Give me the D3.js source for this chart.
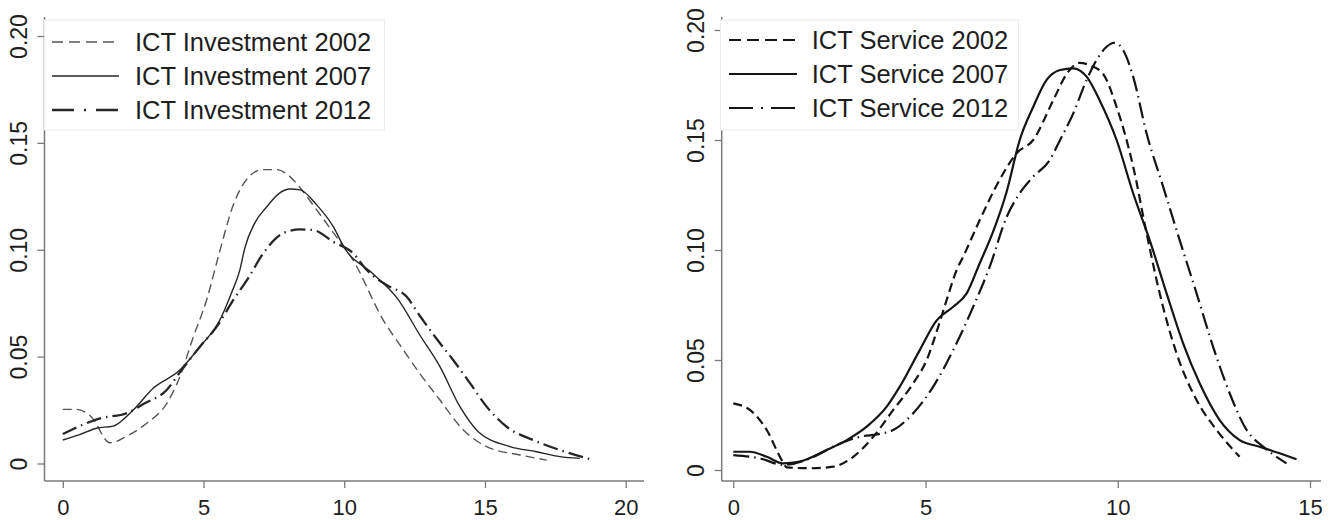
<!DOCTYPE html>
<html>
<head>
<meta charset="utf-8">
<script src="https://cdn.jsdelivr.net/npm/d3@7"></script>
<style>
  html, body { margin: 0; padding: 0; background: #ffffff; }
  svg { display: block; font-family: "Liberation Sans", Arial, sans-serif; }
</style>
</head>
<body>
<svg id="chart" width="1336" height="520"></svg>
<script>
// ---------- Data ----------
const yTicks = [0, 0.05, 0.10, 0.15, 0.20];
const xTicksInv = [0, 5, 10, 15, 20];
const xTicksSrv = [0, 5, 10, 15];

const invLabels = ["ICT Investment 2002", "ICT Investment 2007", "ICT Investment 2012"];
const srvLabels = ["ICT Service 2002", "ICT Service 2007", "ICT Service 2012"];

// ICT Investment density curves
const inv2002X = [0, 0.5, 1.0, 1.68, 2.3, 2.98, 3.69, 4.16, 4.64, 5.11, 5.55, 6.06, 6.6, 7.1, 7.6, 8.0, 8.43, 9.0, 9.61, 10.32, 11.39, 12.0, 12.69, 13.4, 14.23, 15.06, 16.24, 17.19];
const inv2002Y = [0.0253, 0.0253, 0.022, 0.0097, 0.013, 0.0188, 0.028, 0.0406, 0.0593, 0.0765, 0.098, 0.121, 0.134, 0.1375, 0.1375, 0.135, 0.129, 0.119, 0.108, 0.095, 0.067, 0.055, 0.042, 0.0297, 0.0157, 0.0079, 0.004, 0.0016];

const inv2007X = [0, 0.6, 1.2, 1.79, 2.5, 3.21, 4.16, 4.87, 5.58, 6.0, 6.29, 6.47, 6.8, 7.24, 7.7, 8.07, 8.43, 9.02, 9.61, 10.0, 11.0, 11.9, 12.69, 13.4, 14.11, 14.76, 15.89, 16.83, 17.66, 18.37];
const inv2007Y = [0.011, 0.0135, 0.0165, 0.0175, 0.025, 0.0352, 0.0437, 0.0546, 0.0671, 0.08, 0.0905, 0.101, 0.112, 0.120, 0.1265, 0.1284, 0.128, 0.121, 0.1108, 0.101, 0.089, 0.077, 0.060, 0.0453, 0.0266, 0.0149, 0.0079, 0.0055, 0.0032, 0.0024];

const inv2012X = [0, 0.6, 1.32, 2.27, 2.86, 3.69, 4.22, 4.87, 5.47, 6.06, 6.6, 7.12, 7.83, 8.43, 8.9, 9.61, 10.32, 10.8, 11.5, 12.22, 12.69, 13.3, 13.87, 14.5, 15.06, 15.77, 16.71, 17.66, 18.73];
const inv2012Y = [0.0138, 0.0175, 0.0211, 0.0235, 0.0278, 0.0344, 0.0437, 0.0546, 0.064, 0.0765, 0.087, 0.0983, 0.1077, 0.1095, 0.1092, 0.1037, 0.0983, 0.0905, 0.0835, 0.078, 0.069, 0.058, 0.0484, 0.037, 0.0266, 0.0172, 0.011, 0.0063, 0.002];

// ICT Service density curves
const srv2002X = [0, 0.43, 0.87, 1.26, 1.39, 2.0, 2.6, 3.12, 3.64, 4.16, 4.68, 5.03, 5.33, 5.55, 5.81, 5.98, 6.41, 6.93, 7.37, 7.8, 8.32, 8.67, 9.01, 9.27, 9.62, 9.97, 10.4, 10.75, 11.09, 11.53, 12.05, 12.57, 13.17];
const srv2002Y = [0.0303, 0.0273, 0.0182, 0.0045, 0.0012, 0.0008, 0.0015, 0.006, 0.0151, 0.0273, 0.0394, 0.05, 0.0651, 0.0773, 0.0909, 0.097, 0.1136, 0.132, 0.144, 0.150, 0.168, 0.180, 0.1851, 0.184, 0.180, 0.165, 0.138, 0.1076, 0.0803, 0.053, 0.0318, 0.0182, 0.006];

const srv2007X = [0, 0.43, 0.87, 1.3, 1.73, 2.43, 2.95, 3.47, 3.99, 4.33, 4.85, 5.29, 5.72, 6.07, 6.41, 6.75, 7.11, 7.45, 7.8, 8.15, 8.5, 8.84, 9.19, 9.53, 9.97, 10.4, 10.83, 11.27, 11.7, 12.13, 12.65, 13.17, 13.69, 14.21, 14.65];
const srv2007Y = [0.0083, 0.0083, 0.006, 0.003, 0.0038, 0.0091, 0.0136, 0.0197, 0.0288, 0.0379, 0.0545, 0.068, 0.0742, 0.0803, 0.094, 0.108, 0.1265, 0.150, 0.165, 0.1773, 0.1818, 0.1826, 0.1788, 0.168, 0.150, 0.1258, 0.1045, 0.0803, 0.0576, 0.0394, 0.0227, 0.0136, 0.0106, 0.0076, 0.0049];

const srv2012X = [0, 0.69, 1.3, 2.0, 2.69, 3.29, 3.81, 4.16, 4.68, 5.2, 5.72, 6.24, 6.67, 7.11, 7.45, 7.8, 8.23, 8.5, 8.84, 9.19, 9.45, 9.71, 9.92, 10.14, 10.4, 10.75, 11.18, 11.61, 12.05, 12.48, 12.91, 13.35, 13.78, 14.13, 14.39];
const srv2012Y = [0.0068, 0.0053, 0.0023, 0.0053, 0.0114, 0.0151, 0.0164, 0.0182, 0.0258, 0.0379, 0.0545, 0.0742, 0.0924, 0.115, 0.1258, 0.1333, 0.1409, 0.150, 0.162, 0.1773, 0.1864, 0.1924, 0.1942, 0.1909, 0.1788, 0.153, 0.1288, 0.1045, 0.0803, 0.056, 0.0349, 0.0182, 0.0106, 0.006, 0.003];

// ---------- Drawing ----------
const svg = d3.select("#chart");
const zip = (xs, ys) => xs.map((x, i) => [x, ys[i]]);
const fmtY = v => v === 0 ? "0" : d3.format(".2f")(v);

const AXIS_COLOR = "#7a7a7a";
const TEXT_COLOR = "#1e1e1e";

function panel(cfg) {
  const g = svg.append("g");
  const x = d3.scaleLinear().domain(cfg.xDomain).range(cfg.xRange);
  const y = d3.scaleLinear().domain([0, 0.2]).range(cfg.yRange);

  // axis lines
  g.append("line").attr("x1", cfg.axisX).attr("x2", cfg.axisX)
    .attr("y1", cfg.axisTop).attr("y2", cfg.axisY)
    .attr("stroke", AXIS_COLOR).attr("stroke-width", 1.5);
  g.append("line").attr("x1", cfg.axisX).attr("x2", cfg.axisRight)
    .attr("y1", cfg.axisY).attr("y2", cfg.axisY)
    .attr("stroke", AXIS_COLOR).attr("stroke-width", 1.5);

  // y axis
  const yAxis = d3.axisLeft(y).tickValues(yTicks).tickFormat(fmtY).tickSize(7).tickPadding(0);
  const ya = g.append("g").attr("transform", `translate(${cfg.axisX},0)`).call(yAxis);
  ya.select(".domain").remove();
  ya.selectAll(".tick line").attr("stroke", AXIS_COLOR).attr("stroke-width", 1.3);
  ya.selectAll(".tick text")
    .attr("x", null)
    .attr("transform", "translate(-26,0) rotate(-90)")
    .attr("text-anchor", "middle")
    .attr("dy", "0.36em")
    .attr("font-size", 23)
    .attr("font-family", "Liberation Sans, Arial, sans-serif")
    .attr("fill", TEXT_COLOR);

  // x axis
  const xAxis = d3.axisBottom(x).tickValues(cfg.xTicks).tickFormat(d3.format("d")).tickSize(7);
  const xa = g.append("g").attr("transform", `translate(0,${cfg.axisY})`).call(xAxis);
  xa.select(".domain").remove();
  xa.selectAll(".tick line").attr("stroke", AXIS_COLOR).attr("stroke-width", 1.3);
  xa.selectAll(".tick text")
    .attr("y", 34).attr("dy", null)
    .attr("font-size", 22)
    .attr("font-family", "Liberation Sans, Arial, sans-serif")
    .attr("fill", TEXT_COLOR);

  // curves
  const line = d3.line().x(d => x(d[0])).y(d => y(d[1])).curve(d3.curveMonotoneX);
  cfg.series.forEach(s => {
    g.append("path")
      .datum(zip(s.xs, s.ys))
      .attr("d", line)
      .attr("fill", "none")
      .attr("stroke", s.color)
      .attr("stroke-width", s.width)
      .attr("stroke-dasharray", s.dash)
      .attr("stroke-linejoin", "round");
  });

  // legend
  const lg = g.append("g");
  lg.append("rect")
    .attr("x", cfg.legend.x).attr("y", cfg.legend.y)
    .attr("width", cfg.legend.w).attr("height", cfg.legend.h)
    .attr("fill", "#ffffff").attr("stroke", "#ececec").attr("stroke-width", 1);
  cfg.series.forEach((s, i) => {
    const cy = cfg.legend.rows[i];
    lg.append("line")
      .attr("x1", cfg.legend.lx1).attr("x2", cfg.legend.lx2)
      .attr("y1", cy).attr("y2", cy)
      .attr("stroke", s.color)
      .attr("stroke-width", s.width)
      .attr("stroke-dasharray", s.legendDash || s.dash);
    lg.append("text")
      .attr("x", cfg.legend.tx).attr("y", cy + 9)
      .attr("font-size", 25.5)
      .attr("fill", TEXT_COLOR)
      .text(cfg.labels[i]);
  });
}

panel({
  xDomain: [0, 20], xRange: [62.8, 625.7], yRange: [463.5, 36],
  axisX: 44.5, axisY: 481, axisTop: 17, axisRight: 644,
  xTicks: xTicksInv,
  labels: invLabels,
  series: [
    { xs: inv2002X, ys: inv2002Y, color: "#555555", width: 1.4, dash: "9,5", legendDash: "11,6" },
    { xs: inv2007X, ys: inv2007Y, color: "#262626", width: 1.4, dash: null },
    { xs: inv2012X, ys: inv2012Y, color: "#262626", width: 2.3, dash: "15,5,1.5,5", legendDash: "22,10,2,10" }
  ],
  legend: { x: 44.5, y: 20, w: 340, h: 110, rows: [42, 76, 110], lx1: 52, lx2: 119, tx: 135 }
});

panel({
  xDomain: [0, 15], xRange: [733.3, 1310], yRange: [470, 30],
  axisX: 721.7, axisY: 481, axisTop: 17, axisRight: 1321,
  xTicks: xTicksSrv,
  labels: srvLabels,
  series: [
    { xs: srv2002X, ys: srv2002Y, color: "#151515", width: 2.2, dash: "9,5", legendDash: "12,6" },
    { xs: srv2007X, ys: srv2007Y, color: "#151515", width: 2.2, dash: null },
    { xs: srv2012X, ys: srv2012Y, color: "#151515", width: 2.2, dash: "16,5,1.5,5", legendDash: "24,8,2,8" }
  ],
  legend: { x: 720.5, y: 20, w: 298, h: 110, rows: [40, 74, 108], lx1: 729, lx2: 797, tx: 811.7 }
});
</script>
</body>
</html>
